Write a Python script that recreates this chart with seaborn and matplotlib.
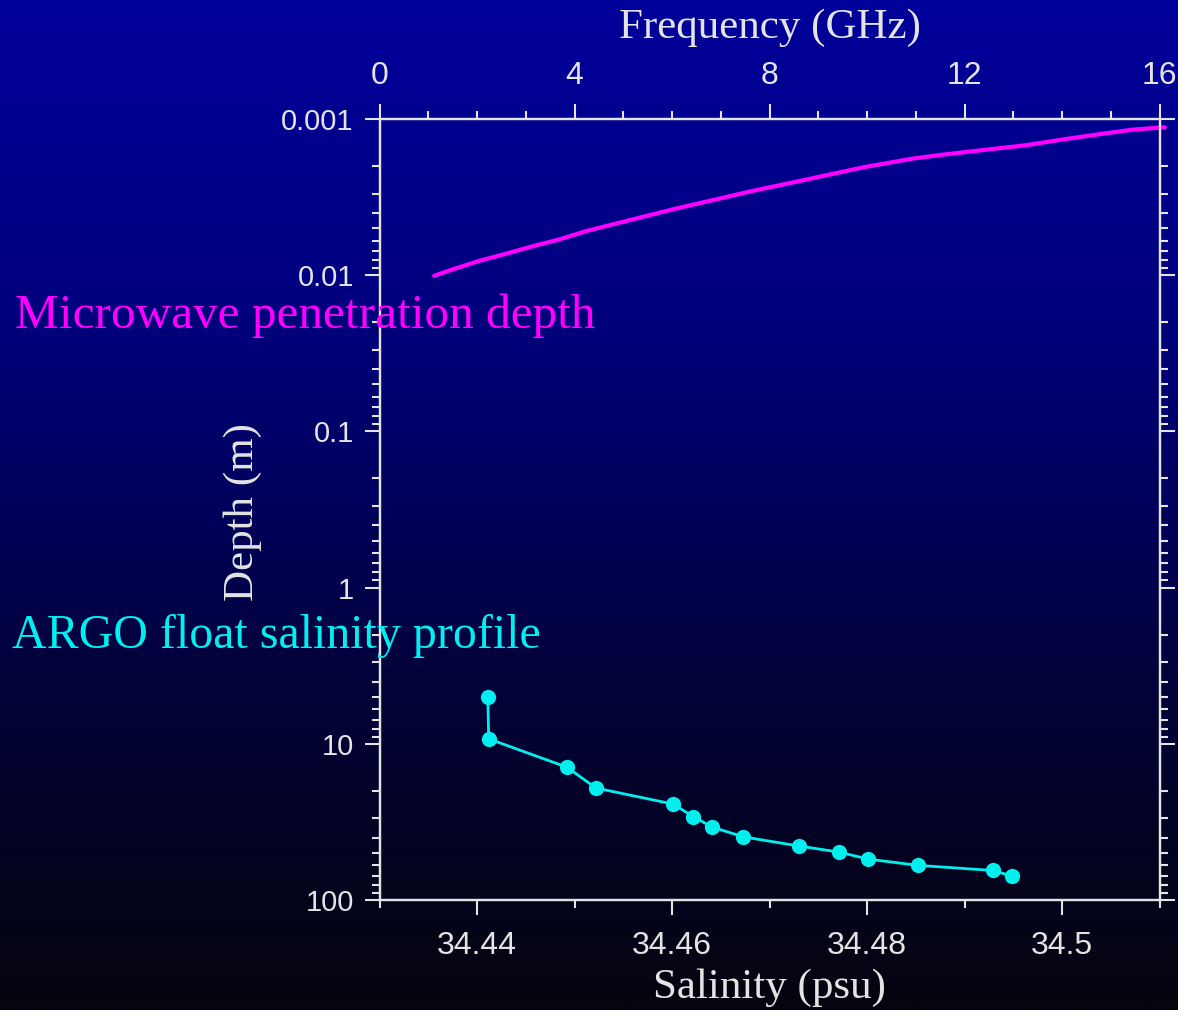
import numpy as np
import pandas as pd
import matplotlib
matplotlib.use("Agg")
import matplotlib.pyplot as plt
from matplotlib.colors import LinearSegmentedColormap
from matplotlib.ticker import FixedLocator, FixedFormatter, LogLocator, NullFormatter
import seaborn as sns

# ---------------- data ----------------
argo_salinity = [34.4411, 34.4412, 34.4492, 34.4522, 34.4601, 34.4622, 34.4641,
                 34.4673, 34.4730, 34.4771, 34.4801, 34.4852, 34.4929, 34.4949]
argo_depth = [5.0, 9.3, 14.1, 19.2, 24.3, 29.3, 34.1, 39.4, 45.1, 49.3, 54.7,
              60.0, 64.7, 70.3]

mw_frequency = [1.12, 1.51, 2.06, 2.47, 3.23, 3.70, 4.25, 5.21, 6.03, 6.85, 7.67,
                8.63, 9.92, 10.95, 11.64, 13.28, 14.03, 14.78, 15.46, 16.11]
mw_depth = [0.0101, 0.00916, 0.00807, 0.00747, 0.00642, 0.00589, 0.00521, 0.00438,
            0.00378, 0.00330, 0.00288, 0.00249, 0.00204, 0.00179, 0.00168, 0.00147,
            0.00135, 0.00125, 0.00117, 0.00113]

sal_major = [34.44, 34.46, 34.48, 34.50]
sal_major_labels = ["34.44", "34.46", "34.48", "34.5"]
sal_minor = [34.43, 34.45, 34.47, 34.49, 34.51]
freq_major = [0, 4, 8, 12, 16]
freq_major_labels = ["0", "4", "8", "12", "16"]
freq_minor = [1, 2, 3, 5, 6, 7, 9, 10, 11, 13, 14, 15]
depth_major = [0.001, 0.01, 0.1, 1, 10, 100]
depth_major_labels = ["0.001", "0.01", "0.1", "1", "10", "100"]

argo_df = pd.DataFrame({"salinity": argo_salinity, "depth": argo_depth})
mw_df = pd.DataFrame({"frequency": mw_frequency, "depth": mw_depth})

# ---------------- style ----------------
sns.set_style("white")
plt.rcParams["font.family"] = ["Liberation Serif", "DejaVu Serif"]

FG = "#e4e4e4"
MAGENTA = "#ff00ff"
CYAN = "#00f0f0"
NARROW = ["Liberation Sans Narrow", "Liberation Sans", "DejaVu Sans"]
SANS = ["Liberation Sans", "DejaVu Sans"]
SERIF = ["Liberation Serif", "DejaVu Serif"]

fig = plt.figure(figsize=(11.78, 10.10), dpi=100)

# gradient background
bg = fig.add_axes([0, 0, 1, 1])
bg.set_zorder(-5)
cmap = LinearSegmentedColormap.from_list(
    "bg",
    [(0.0, (0 / 255, 0 / 255, 155 / 255)),
     (0.3, (0 / 255, 0 / 255, 126 / 255)),
     (0.5, (0 / 255, 0 / 255, 92 / 255)),
     (0.65, (2 / 255, 2 / 255, 62 / 255)),
     (0.85, (3 / 255, 3 / 255, 32 / 255)),
     (1.0, (5 / 255, 5 / 255, 15 / 255))])
grad = np.linspace(0, 1, 512).reshape(-1, 1)
bg.imshow(grad, aspect="auto", cmap=cmap, extent=[0, 1, 1, 0])
bg.set_axis_off()

ax = fig.add_axes([0.3222, 0.1089, 0.6621, 0.7733])
ax.patch.set_alpha(0)

sns.lineplot(data=argo_df, x="salinity", y="depth", sort=False, estimator=None,
             ax=ax, color=CYAN, linewidth=2.0, marker="o", markersize=11,
             markeredgewidth=0, markeredgecolor=CYAN, markerfacecolor=CYAN,
             clip_on=False)
ax.set_yscale("log")
ax.set_xlim(34.43, 34.51)
ax.set_ylim(100, 0.001)

ax2 = ax.twiny()
sns.lineplot(data=mw_df, x="frequency", y="depth", sort=False, estimator=None,
             ax=ax2, color=MAGENTA, linewidth=3.0, clip_on=False)
ax2.set_xlim(0, 16)
ax.set_ylim(100, 0.001)

# spines
for a in (ax, ax2):
    for s in a.spines.values():
        s.set_color(FG)
        s.set_linewidth(1.6)
        s.set_visible(True)

# bottom axis ticks
ax.xaxis.set_major_locator(FixedLocator(sal_major))
ax.xaxis.set_major_formatter(FixedFormatter(sal_major_labels))
ax.xaxis.set_minor_locator(FixedLocator(sal_minor))
# left/right axis ticks
ax.yaxis.set_major_locator(FixedLocator(depth_major))
ax.yaxis.set_major_formatter(FixedFormatter(depth_major_labels))
ax.yaxis.set_minor_locator(LogLocator(base=10, subs=np.arange(2, 10)))
ax.yaxis.set_minor_formatter(NullFormatter())
ax.tick_params(axis="both", which="both", direction="out", color=FG, width=1.5,
               labelcolor=FG)
ax.tick_params(axis="both", which="major", length=10.5)
ax.tick_params(axis="both", which="minor", length=5.5)
ax.tick_params(axis="y", which="both", left=True, right=True, labelright=False)
ax.tick_params(axis="x", which="both", bottom=True, top=False, pad=12)
ax.tick_params(axis="y", which="major", pad=8)
for lab in ax.get_xticklabels():
    lab.set_fontfamily(NARROW)
    lab.set_fontsize(23)
for lab in ax.get_yticklabels():
    lab.set_fontfamily(SANS)
    lab.set_fontsize(21)

# top axis ticks
ax2.xaxis.set_major_locator(FixedLocator(freq_major))
ax2.xaxis.set_major_formatter(FixedFormatter(freq_major_labels))
ax2.xaxis.set_minor_locator(FixedLocator(freq_minor))
ax2.tick_params(axis="x", which="both", direction="out", color=FG, width=1.5,
                labelcolor=FG, top=True, bottom=False, pad=10)
ax2.tick_params(axis="x", which="major", length=10.5)
ax2.tick_params(axis="x", which="minor", length=5.5)
for lab in ax2.get_xticklabels():
    lab.set_fontfamily(NARROW)
    lab.set_fontsize(23)

# axis labels
ax.set_xlabel("Salinity (psu)", fontsize=31, color=FG, fontfamily=SERIF)
ax.xaxis.label.set_verticalalignment("center")
ax.xaxis.set_label_coords(0.5, -0.1127)
ax.set_ylabel("Depth (m)", fontsize=31, color=FG, fontfamily=SERIF)
ax.yaxis.label.set_verticalalignment("center")
ax.yaxis.set_label_coords(-0.175, 0.497)
ax2.set_xlabel("Frequency (GHz)", fontsize=31, color=FG, fontfamily=SERIF)
ax2.xaxis.label.set_verticalalignment("center")
ax2.xaxis.set_label_coords(0.5, 1.1165)
ax2.set_ylabel("")

# annotations
fig.text(15 / 1178, 1 - 316 / 1010, "Microwave penetration depth", color=MAGENTA,
         fontsize=35.5, fontfamily=SERIF, ha="left", va="center", zorder=20)
fig.text(12 / 1178, 1 - 636 / 1010, "ARGO float salinity profile", color=CYAN,
         fontsize=34.5, fontfamily=SERIF, ha="left", va="center", zorder=20)

fig.savefig("out.png", dpi=100)
